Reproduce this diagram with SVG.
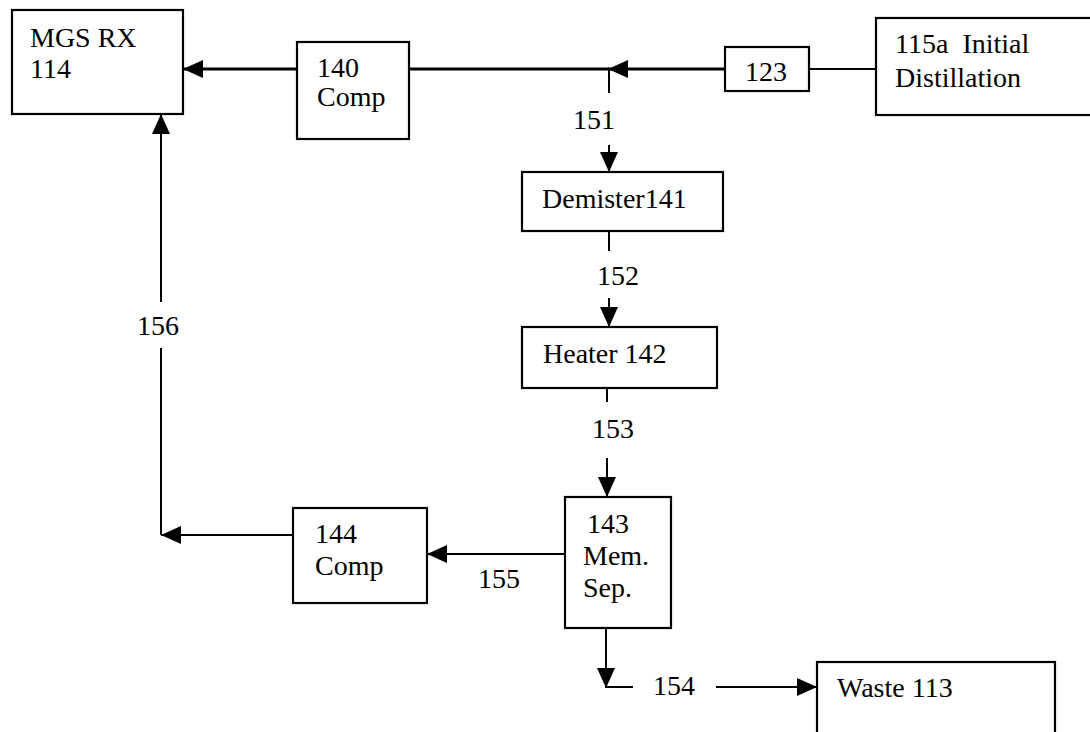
<svg xmlns="http://www.w3.org/2000/svg" width="1090" height="732" viewBox="0 0 1090 732">
  <defs>
    <marker id="ah" markerUnits="userSpaceOnUse" markerWidth="20" markerHeight="18" refX="20" refY="9" orient="auto">
      <path d="M0,0 L20,9 L0,18 z" fill="#000"/>
    </marker>
    <style>
      .box { fill: #fff; stroke: #000; stroke-width: 2.2; }
      .t { font-family: "Liberation Serif", "Times New Roman", serif; font-size: 28px; fill: #000; }
      .c { fill: none; stroke: #000; stroke-width: 2; }
      .thick { stroke-width: 2.8; }
    </style>
  </defs>
  <rect x="0" y="0" width="1090" height="732" fill="#fff"/>

  <g id="connectors">
    <line class="c thick" x1="297" y1="69" x2="183" y2="69" marker-end="url(#ah)"/>
    <line class="c thick" x1="725" y1="69" x2="608" y2="69" marker-end="url(#ah)"/>
    <line class="c thick" x1="609" y1="69" x2="409" y2="69"/>
    <line class="c" x1="809" y1="69" x2="876" y2="69"/>
    <line class="c" x1="609" y1="69" x2="609" y2="93"/>
    <line class="c" x1="609" y1="145" x2="609" y2="172" marker-end="url(#ah)"/>
    <line class="c" x1="609" y1="231" x2="609" y2="251"/>
    <line class="c" x1="609" y1="298" x2="609" y2="327" marker-end="url(#ah)"/>
    <line class="c" x1="607" y1="388" x2="607" y2="402"/>
    <line class="c" x1="607" y1="458" x2="607" y2="497" marker-end="url(#ah)"/>
    <line class="c" x1="565" y1="554" x2="427" y2="554" marker-end="url(#ah)"/>
    <line class="c" x1="293" y1="535" x2="161" y2="535" marker-end="url(#ah)"/>
    <line class="c" x1="161" y1="535" x2="161" y2="348"/>
    <line class="c" x1="161" y1="302" x2="161" y2="114" marker-end="url(#ah)"/>
    <line class="c" x1="606" y1="628" x2="606" y2="688" marker-end="url(#ah)"/>
    <line class="c" x1="606" y1="687" x2="633" y2="687"/>
    <line class="c" x1="716" y1="687" x2="817" y2="687" marker-end="url(#ah)"/>
    <text class="t" x="573" y="129">151</text>
    <text class="t" x="597" y="285">152</text>
    <text class="t" x="592" y="438">153</text>
    <text class="t" x="478" y="588">155</text>
    <text class="t" x="137" y="335">156</text>
    <text class="t" x="653" y="695">154</text>
  </g>

  <g id="mgs-rx">
    <rect class="box" x="12" y="10" width="171" height="104"/>
    <text class="t" x="30" y="47">MGS RX</text>
    <text class="t" x="30" y="78">114</text>
  </g>
  <g id="comp-140">
    <rect class="box" x="297" y="42" width="112" height="97"/>
    <text class="t" x="317" y="77">140</text>
    <text class="t" x="317" y="106">Comp</text>
  </g>
  <g id="box-123">
    <rect class="box" x="725" y="47" width="84" height="44"/>
    <text class="t" x="745" y="81">123</text>
  </g>
  <g id="initial-distillation">
    <rect class="box" x="876" y="18" width="230" height="97"/>
    <text class="t" x="895" y="53" xml:space="preserve">115a  Initial</text>
    <text class="t" x="895" y="87">Distillation</text>
  </g>
  <g id="demister">
    <rect class="box" x="522" y="172" width="201" height="59"/>
    <text class="t" x="542" y="208">Demister141</text>
  </g>
  <g id="heater">
    <rect class="box" x="522" y="327" width="195" height="61"/>
    <text class="t" x="543" y="363">Heater 142</text>
  </g>
  <g id="mem-sep">
    <rect class="box" x="565" y="497" width="106" height="131"/>
    <text class="t" x="587" y="533">143</text>
    <text class="t" x="583" y="565">Mem.</text>
    <text class="t" x="583" y="597">Sep.</text>
  </g>
  <g id="comp-144">
    <rect class="box" x="293" y="508" width="134" height="95"/>
    <text class="t" x="315" y="543">144</text>
    <text class="t" x="315" y="575">Comp</text>
  </g>
  <g id="waste">
    <rect class="box" x="817" y="662" width="238" height="90"/>
    <text class="t" x="837" y="697">Waste 113</text>
  </g>
</svg>
